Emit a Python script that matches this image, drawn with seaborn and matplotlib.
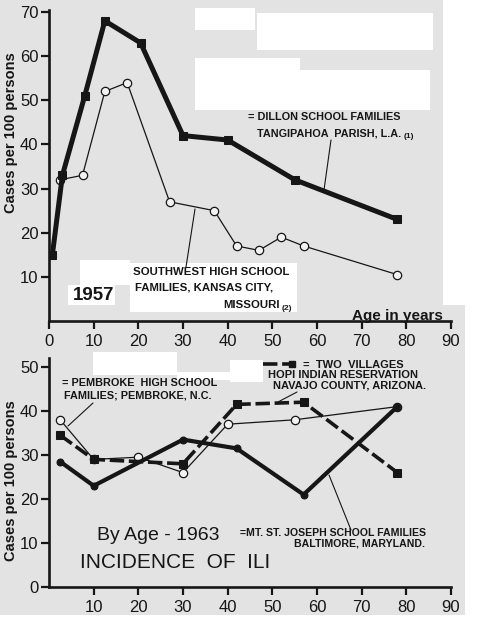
import matplotlib
matplotlib.use("Agg")
import pandas as pd
import seaborn as sns
import matplotlib.pyplot as plt
from matplotlib.lines import Line2D
from matplotlib.patches import Rectangle

# 1957 survey
age_dillon = [0.75, 3, 8, 12.5, 20.5, 30, 40, 55, 78]
rate_dillon = [15, 33, 51, 68, 63, 42, 41, 32, 23]
age_southwest = [2.5, 7.5, 12.5, 17.5, 27, 37, 42, 47, 52, 57, 78]
rate_southwest = [32, 33, 52, 54, 27, 25, 17, 16, 19, 17, 10.5]

# 1963 survey
age_1963 = [2.5, 10, 30, 42, 57, 78]
rate_hopi = [34.5, 29, 28, 41.5, 42, 26]
rate_stjoseph = [28.5, 23, 33.5, 31.5, 21, 41]
age_pembroke = [2.5, 10, 20, 30, 40, 55, 78]
rate_pembroke = [38, 29, 29.5, 26, 37, 38, 41]

top_xticks = [0, 10, 20, 30, 40, 50, 60, 70, 80, 90]
top_yticks = [10, 20, 30, 40, 50, 60, 70]
bot_xticks = [10, 20, 30, 40, 50, 60, 70, 80, 90]
bot_yticks = [0, 10, 20, 30, 40, 50]

INK = "#161616"
BG = "#e3e3e3"

sns.set_theme(style="ticks")
plt.rcParams["font.family"] = ["Liberation Sans", "DejaVu Sans"]

W, H = 500, 630
fig = plt.figure(figsize=(W / 100, H / 100), dpi=100, facecolor=BG)


def fx(x):
    return x / W


def fy(y):
    return 1 - y / H


def txt(x, y, s, size=7.8, ha="left", weight="bold", **kw):
    fig.text(fx(x), fy(y), s, fontsize=size, ha=ha, va="center", color=INK,
             weight=weight, **kw)


def leader(x0, y0, x1, y1, lw=0.8):
    fig.add_artist(Line2D([fx(x0), fx(x1)], [fy(y0), fy(y1)], color=INK, lw=lw))


# white paste-over blocks of the scan
for x0, y0, x1, y1 in [(257, 13, 433, 50), (195, 8, 255, 30), (195, 58, 300, 110),
                       (300, 70, 430, 110), (80, 260, 130, 285), (130, 263, 297, 312),
                       (68, 285, 115, 305), (93, 352, 177, 375), (177, 372, 260, 380),
                       (230, 360, 263, 382), (443, 0, 500, 305), (465, 305, 500, 630),
                       (0, 615, 500, 630)]:
    fig.add_artist(Rectangle((fx(x0), fy(y1)), fx(x1 - x0), (y1 - y0) / H,
                             transform=fig.transFigure, facecolor="white",
                             edgecolor="none", zorder=-5))


def style_axes(ax, xticks, yticks, ylim, label_y):
    ax.set_facecolor("none")
    ax.set_xlim(0, 90)
    ax.set_ylim(*ylim)
    sns.despine(ax=ax)
    for s in ["left", "bottom"]:
        ax.spines[s].set_linewidth(1.9)
        ax.spines[s].set_color(INK)
    ax.set_xticks(xticks)
    ax.set_yticks(yticks)
    ax.tick_params(axis="both", direction="out", length=6, width=1.6, color=INK,
                   labelsize=12, labelcolor=INK)
    ax.tick_params(axis="x", pad=3)
    ax.tick_params(axis="y", pad=1.5)
    ax.set_xlabel("")
    ax.set_ylabel("Cases per 100 persons", fontsize=10.5, color=INK, weight="bold")
    ax.yaxis.set_label_coords(-0.078, label_y)
    ax.grid(False)


# ---- top panel: 1957
ax1 = fig.add_axes([fx(49), fy(321), fx(402), 309 / H * 70.5 / 70])
df_dillon = pd.DataFrame({"age": age_dillon, "rate": rate_dillon})
df_sw = pd.DataFrame({"age": age_southwest, "rate": rate_southwest})
sns.lineplot(data=df_sw, x="age", y="rate", ax=ax1, color=INK, linewidth=0.9,
             marker="o", markersize=6, markerfacecolor="#f2f2f2",
             markeredgecolor=INK, markeredgewidth=0.9)
sns.lineplot(data=df_dillon, x="age", y="rate", ax=ax1, color=INK, linewidth=3.6,
             marker="s", markersize=6, markerfacecolor=INK, markeredgecolor=INK)
style_axes(ax1, top_xticks, top_yticks, (0, 70.5), 0.605)

# ---- bottom panel: 1963
ax2 = fig.add_axes([fx(49), fy(587), fx(402), 52 * 4.4 / H])
df_hopi = pd.DataFrame({"age": age_1963, "rate": rate_hopi})
df_stj = pd.DataFrame({"age": age_1963, "rate": rate_stjoseph})
df_pem = pd.DataFrame({"age": age_pembroke, "rate": rate_pembroke})
sns.lineplot(data=df_pem, x="age", y="rate", ax=ax2, color=INK, linewidth=0.9,
             marker="o", markersize=6, markerfacecolor="#f2f2f2",
             markeredgecolor=INK, markeredgewidth=0.9)
sns.lineplot(data=df_hopi, x="age", y="rate", ax=ax2, color=INK, linewidth=2.6,
             linestyle=(0, (4, 1.3)), marker="s", markersize=6,
             markerfacecolor=INK, markeredgecolor=INK)
sns.lineplot(data=df_stj, x="age", y="rate", ax=ax2, color=INK, linewidth=3.0,
             marker="o", markersize=5, markerfacecolor=INK, markeredgecolor=INK)
style_axes(ax2, bot_xticks, bot_yticks, (0, 52), 0.467)

# ---- annotations, top
txt(248, 117, "= DILLON SCHOOL FAMILIES")
txt(257, 133, "TANGIPAHOA  PARISH, L.A.")
txt(404, 136, "(1)", 6)
leader(331, 140, 324, 190)
txt(133, 272, "SOUTHWEST HIGH SCHOOL", 8.2)
txt(135, 288, "FAMILIES, KANSAS CITY,", 8.2)
txt(223, 305, "MISSOURI", 8.2)
txt(282, 309, "(2)", 6)
leader(195, 209, 186, 267)
txt(73, 296, "1957", 13.5)
txt(352, 316, "Age in years", 11)

# ---- annotations, bottom
txt(62, 383, "= PEMBROKE  HIGH SCHOOL")
txt(64, 395, "FAMILIES; PEMBROKE, N.C.")
leader(93, 403, 68, 426)
fig.add_artist(Line2D([fx(263), fx(292)], [fy(364), fy(364)], color=INK, lw=2.6,
                      linestyle=(0, (4, 1.3)), marker="s", markevery=[1],
                      markersize=5, markerfacecolor=INK, markeredgecolor=INK))
txt(303, 365, "=  TWO  VILLAGES", 8.0)
txt(268, 375, "HOPI INDIAN RESERVATION", 8.0)
txt(273, 385, "NAVAJO COUNTY, ARIZONA.", 8.0)
leader(297, 392, 278, 402)
txt(240, 533, "=MT. ST. JOSEPH SCHOOL FAMILIES", 7.6)
txt(425, 544, "BALTIMORE, MARYLAND.", 7.6, ha="right")
leader(329, 475, 351, 530)
txt(97, 535, "By Age - 1963", 14, weight="normal")
txt(80, 563, "INCIDENCE  OF  ILI", 15, weight="normal")

fig.savefig("out.png", dpi=100, facecolor=BG)
